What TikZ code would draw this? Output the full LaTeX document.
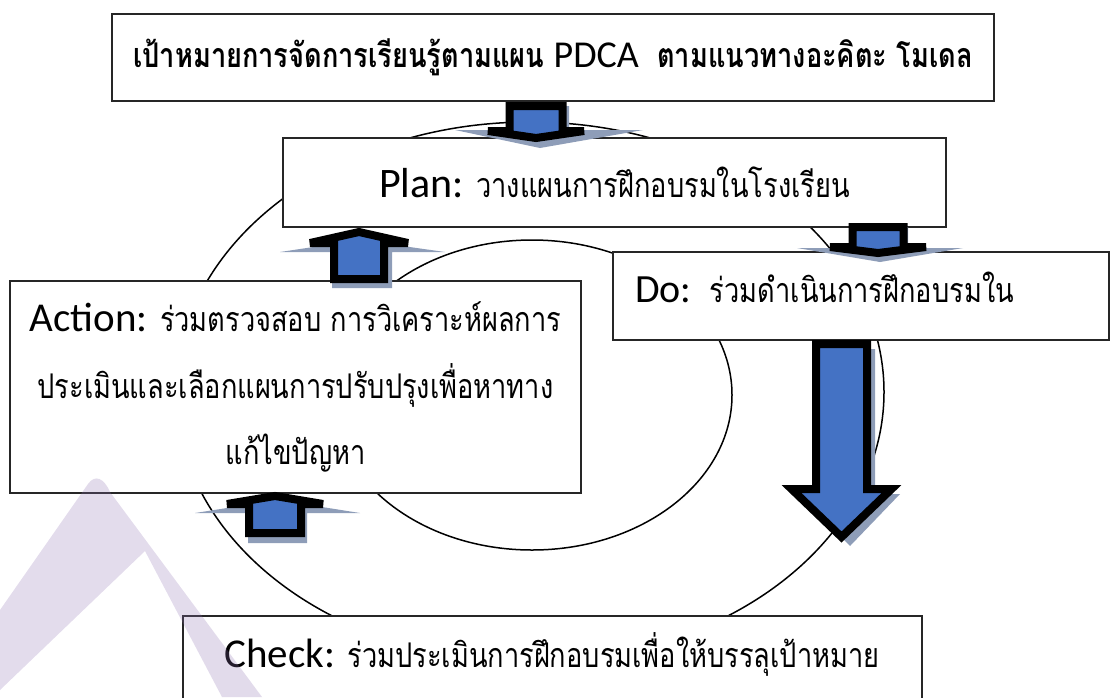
\documentclass[tikz,border=0pt]{standalone}
\usepackage{fontspec}
\usepackage{tikz}
\newfontfamily\thaifont[Script=Thai,FakeStretch=0.8]{Loma}
\newfontfamily\latinfont{Carlito}
\definecolor{arrowblue}{HTML}{4472C4}
\definecolor{shadowgrey}{HTML}{8E9DB8}
\definecolor{markpurple}{RGB}{143,115,179}

% block arrow: centre x, shaft end y, head y, tip y, shaft half width, head half width
\newcommand{\blockarrow}[6]{%
	\draw[arrowbody] ({#1-#5},#2) -- ({#1+#5},#2) -- ({#1+#5},#3) -- ({#1+#6},#3)
		-- (#1,#4) -- ({#1-#6},#3) -- ({#1-#5},#3) -- cycle;}

\begin{document}
\begin{tikzpicture}[x=1pt,y=-1pt]
		\tikzstyle{box}=[draw=black!85, line width=1.5pt, fill=white, inner sep=0pt];
		\tikzstyle{cycleline}=[draw=black, line width=1.5pt];
		\tikzstyle{arrowbody}=[fill=arrowblue, draw=black, line width=8pt, miter limit=3];
		\tikzstyle{arrowshadow}=[fill=shadowgrey];
		\tikzstyle{thaitext}=[font=\thaifont\fontsize{34}{66.5}\selectfont];

		\useasboundingbox (0,0) rectangle (1110,697);
		\clip (0,0) rectangle (1110,697);

		% the two loops
		\draw[cycleline] (530,392) ellipse [x radius=354, y radius=270];
		\draw[cycleline] (532,395) ellipse [x radius=200, y radius=155];

		% boxes
		\node[box, minimum width=882pt, minimum height=87pt,
			font=\thaifont\bfseries\fontsize{34}{40}\selectfont] (goal) at (553,57.5)
			{เป้าหมายการจัดการเรียนรู้ตามแผน {\latinfont\mdseries\fontsize{38}{40}\selectfont PDCA}\ \ ตามแนวทางอะคิตะ โมเดล};
		\node[box, thaitext, minimum width=663pt, minimum height=89pt] (plan) at (614.5,182.5)
			{{\latinfont\fontsize{42}{50}\selectfont Plan:} วางแผนการฝึกอบรมในโรงเรียน};
		\node[box, minimum width=496pt, minimum height=88pt, anchor=north west] (do) at (612,251) {};
		\node[thaitext, anchor=base west, inner sep=0pt] (dotext) at (635,302)
			{{\latinfont\fontsize{40}{50}\selectfont Do:}\ \ ร่วมดำเนินการฝึกอบรมใน};
		\node[box, thaitext, minimum width=571pt, minimum height=212pt, align=center] (action) at (295.5,387)
			{{\latinfont\fontsize{41}{66.5}\selectfont Action:} ร่วมตรวจสอบ การวิเคราะห์ผลการ\\
			ประเมินและเลือกแผนการปรับปรุงเพื่อหาทาง\\
			แก้ไขปัญหา};
		\node[box, minimum width=739pt, minimum height=120pt, anchor=north] (check) at (552.5,615) {};
		\node[thaitext, anchor=base, inner sep=0pt] (checktext) at (552,667)
			{{\latinfont\fontsize{41}{50}\selectfont Check:} ร่วมประเมินการฝึกอบรมเพื่อให้บรรลุเป้าหมาย};

		% shadows of the arrows
		\fill[arrowshadow] (512,106) -- (569,106) -- (569,130) -- (643,130) -- (540,148) -- (455,130) -- (512,130) -- cycle;
		\fill[arrowshadow] (853,227) -- (908,227) -- (908,248) -- (963,248) -- (880,262) -- (797,248) -- (853,248) -- cycle;
		\fill[arrowshadow] (332,288) -- (392,288) -- (392,252) -- (445,252) -- (360,240) -- (280,252) -- (332,252) -- cycle;
		\fill[arrowshadow] (248,543) -- (307,543) -- (307,513) -- (360,513) -- (278,500) -- (195,513) -- (248,513) -- cycle;
		\begin{scope}[xshift=4pt, yshift=-5pt]
			\fill[arrowshadow] (820,344) -- (871,344) -- (871,489) -- (896,489) -- (846,541) -- (796,489) -- (820,489) -- cycle;
		\end{scope}

		% arrows
		\blockarrow{536}{106}{131}{138}{26.5}{48}
		\blockarrow{878}{227}{247}{253}{25.5}{48}
		\blockarrow{359}{279}{243}{232}{25}{49}
		\blockarrow{275}{533}{504}{496}{26}{48}
		\blockarrow{841.5}{344}{489}{537}{25.5}{50}

		% watermark
		\fill[markpurple, opacity=0.25] (0,610) -- (88,484) .. controls (95,474) and (104,478) .. (110,492)
			-- (262,697) -- (222,697) -- (145,551) -- (0,690) -- cycle;
\end{tikzpicture}
\end{document}
